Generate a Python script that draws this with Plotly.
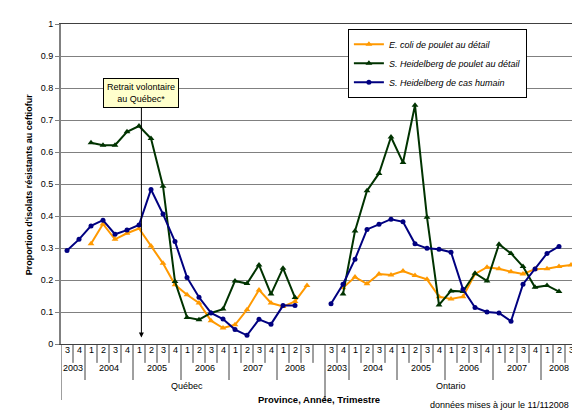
import plotly.graph_objects as go

# Categories: quarters 2003 T3 -> 2008 T3 for each province
provinces = ["Québec", "Ontario"]
years = ["2003", "2004", "2005", "2006", "2007", "2008"]
quarters_by_year = {
    "2003": ["3", "4"],
    "2004": ["1", "2", "3", "4"],
    "2005": ["1", "2", "3", "4"],
    "2006": ["1", "2", "3", "4"],
    "2007": ["1", "2", "3", "4"],
    "2008": ["1", "2", "3"],
}

# Series values (one per quarter, None = no data)
quebec_ecoli = [None, None, 0.313, 0.375, 0.327, 0.346, 0.361, 0.306, 0.252, 0.185,
                0.154, 0.128, 0.073, 0.050, 0.060, 0.107, 0.169, 0.128, 0.117, 0.133, 0.183]
quebec_sh_poulet = [None, None, 0.629, 0.621, 0.621, 0.663, 0.681, 0.642, 0.493, 0.195,
                    0.083, 0.076, 0.097, 0.109, 0.197, 0.189, 0.247, 0.156, 0.237, 0.145, None]
quebec_sh_humain = [0.292, 0.327, 0.369, 0.387, 0.343, 0.356, 0.372, 0.483, 0.406, 0.320,
                    0.208, 0.146, 0.097, 0.078, 0.045, 0.027, 0.077, 0.062, 0.120, 0.120, None]

ontario_ecoli = [None, 0.176, 0.209, 0.188, 0.219, 0.216, 0.228, 0.214, 0.202, 0.148,
                 0.141, 0.148, 0.219, 0.240, 0.235, 0.226, 0.219, 0.234, 0.235, 0.242, 0.247]
ontario_sh_poulet = [None, 0.156, 0.353, 0.479, 0.533, 0.647, 0.567, 0.746, 0.396, 0.122,
                     0.166, 0.164, 0.221, 0.197, 0.312, 0.283, 0.242, 0.177, 0.183, 0.164, None]
ontario_sh_humain = [0.126, 0.187, 0.265, 0.358, 0.374, 0.390, 0.382, 0.313, 0.299, 0.296,
                     0.287, 0.171, 0.114, 0.100, 0.097, 0.071, 0.187, 0.234, 0.283, 0.305, None]

series = [
    ("E. coli de poulet au détail", quebec_ecoli, ontario_ecoli, "#FF9900", "triangle-up", 6),
    ("S. Heidelberg de poulet au détail", quebec_sh_poulet, ontario_sh_poulet, "#003300", "triangle-up", 6),
    ("S. Heidelberg de cas humain", quebec_sh_humain, ontario_sh_humain, "#000080", "circle", 5),
]

FONT = "Arial, Liberation Sans, sans-serif"

# category positions: Québec, one blank slot, Ontario
labels = []
for prov in provinces:
    for y in years:
        for q in quarters_by_year[y]:
            labels.append((prov, y, q))
    if prov != provinces[-1]:
        labels.append(None)
xpos = list(range(len(labels)))

fig = go.Figure()

for name, qc, on, color, symbol, size in series:
    fig.add_trace(go.Scatter(
        x=xpos, y=qc + [None] + on, name=name, mode="lines+markers",
        line=dict(color=color, width=2),
        marker=dict(color=color, symbol=symbol, size=size),
        connectgaps=False,
    ))

line_col = "#404040"
shapes = []
annotations = []

# quarter labels
for i, lab in enumerate(labels):
    if lab is None:
        continue
    annotations.append(dict(x=i, y=-0.041, xref="x", yref="paper", text=lab[2],
                            showarrow=False, font=dict(size=9, family=FONT, color="black")))

# separators: short for quarters, longer for years, longest for provinces
for i in range(len(labels) + 1):
    left = labels[i - 1] if i > 0 else None
    right = labels[i] if i < len(labels) else None
    if i == 0 or i == len(labels) or (left is None and right is not None):
        depth = -0.175
    elif right is None:
        depth = -0.059
    elif left[1] != right[1]:
        depth = -0.1125
    else:
        depth = -0.059
    shapes.append(dict(type="line", xref="x", yref="paper", x0=i - 0.5, x1=i - 0.5,
                       y0=0, y1=depth, line=dict(color=line_col, width=1)))

# year and province labels
for prov in provinces:
    for y in years:
        idx = [i for i, lab in enumerate(labels) if lab and lab[0] == prov and lab[1] == y]
        annotations.append(dict(x=sum(idx) / len(idx), y=-0.097, xref="x", yref="paper", text=y,
                                showarrow=False, font=dict(size=9, family=FONT, color="black")))
    idx = [i for i, lab in enumerate(labels) if lab and lab[0] == prov]
    annotations.append(dict(x=sum(idx) / len(idx), y=-0.153, xref="x", yref="paper", text=prov,
                            showarrow=False, font=dict(size=9, family=FONT, color="black")))

# callout with arrow
annotations.append(dict(
    x=6.2, y=0.02, xref="x", yref="y", ax=6.2, ay=0.783, axref="x", ayref="y",
    text="Retrait volontaire<br>au Québec*", showarrow=True,
    arrowhead=2, arrowsize=1, arrowwidth=1, arrowcolor="black",
    bgcolor="#FFFFCC", bordercolor="black", borderwidth=1, borderpad=3,
    font=dict(size=9, family=FONT, color="black"),
))

annotations.append(dict(x=-0.075, y=0.5, xref="paper", yref="paper", textangle=-90,
                        text="<b>Proportion d'isolats résistants au ceftiofur</b>", showarrow=False,
                        font=dict(size=9, family=FONT, color="black")))
annotations.append(dict(x=0.5, y=-0.197, xref="paper", yref="paper",
                        text="<b>Province, Année, Trimestre</b>", showarrow=False,
                        font=dict(size=9.5, family=FONT, color="black")))
annotations.append(dict(x=0.989, y=-0.2125, xref="paper", yref="paper", xanchor="right",
                        text="données mises à jour le 11/112008", showarrow=False,
                        font=dict(size=9, family=FONT, color="black")))

fig.update_layout(
    width=580, height=413,
    margin=dict(l=53, r=11, t=16, b=77),
    paper_bgcolor="white", plot_bgcolor="white",
    font=dict(family=FONT, size=9, color="black"),
    showlegend=True,
    legend=dict(x=0.556, y=0.985, xanchor="left", yanchor="top",
                bgcolor="white", bordercolor="black", borderwidth=1,
                font=dict(size=9, family=FONT, style="italic"),
                itemwidth=30, tracegroupgap=0),
    xaxis=dict(range=[-0.5, len(labels) - 0.5], showticklabels=False, showgrid=False,
               zeroline=False, showline=True, linecolor=line_col, linewidth=1, mirror=True,
               ticks=""),
    yaxis=dict(range=[0, 1], dtick=0.1, showgrid=True, gridcolor="#808080", gridwidth=1,
               zeroline=False, showline=True, linecolor="#808080", linewidth=2,
               ticks="outside", ticklen=4, tickcolor="#808080",
               tickfont=dict(size=9, family=FONT, color="black")),
    shapes=shapes,
    annotations=annotations,
)

fig.write_html("out.html")
